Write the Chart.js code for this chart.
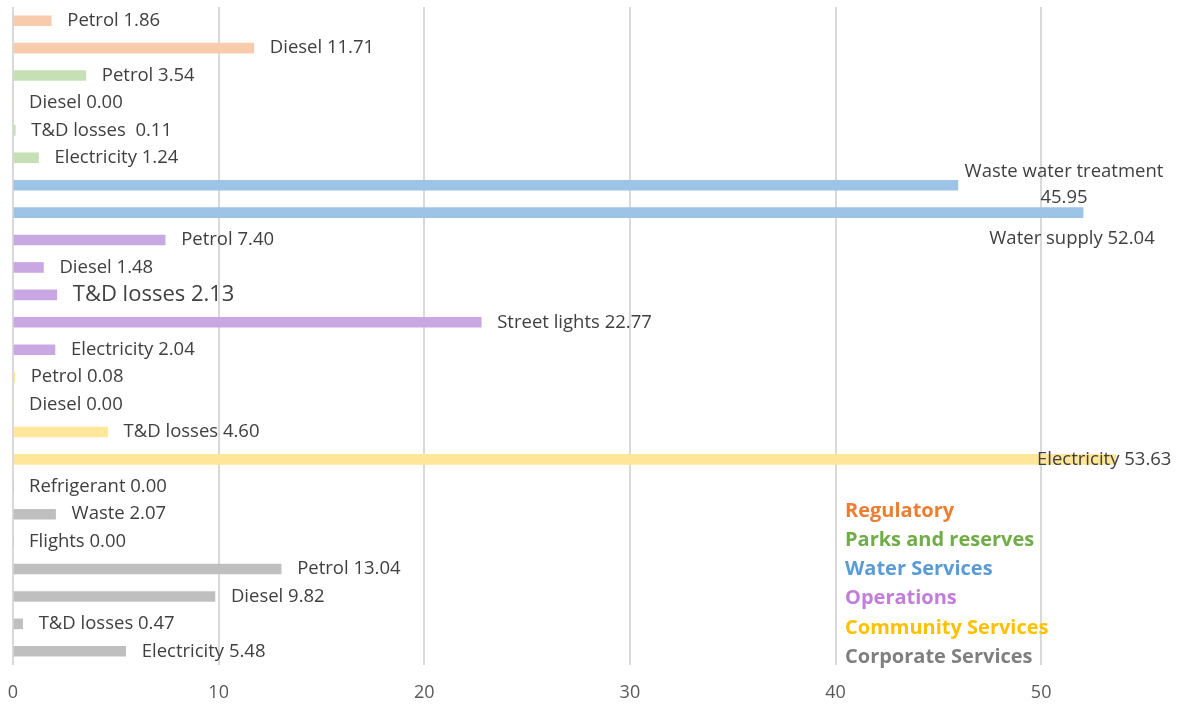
<!DOCTYPE html>
<html>
<head>
<meta charset="utf-8">
<script src="https://cdn.jsdelivr.net/npm/chart.js@4.4.1/dist/chart.umd.min.js"></script>
<style>
  html, body { margin: 0; padding: 0; background: #ffffff; overflow: hidden; }
  #wrap { width: 1182px; height: 706px; }
</style>
</head>
<body>
<div id="wrap"><canvas id="chart" width="1182" height="706"></canvas></div>
<script>
'use strict';

// ── Data (top to bottom) ──────────────────────────────────────────────
var rowNames = [
  'Petrol', 'Diesel',
  'Petrol', 'Diesel', 'T&D losses ', 'Electricity',
  'Waste water treatment', 'Water supply',
  'Petrol', 'Diesel', 'T&D losses', 'Street lights', 'Electricity',
  'Petrol', 'Diesel', 'T&D losses', 'Electricity',
  'Refrigerant', 'Waste', 'Flights', 'Petrol', 'Diesel', 'T&D losses', 'Electricity'
];
var rowValues = [
  1.86, 11.71,
  3.54, 0.00, 0.11, 1.24,
  45.95, 52.04,
  7.40, 1.48, 2.13, 22.77, 2.04,
  0.08, 0.00, 4.60, 53.63,
  0.00, 2.07, 0.00, 13.04, 9.82, 0.47, 5.48
];
var rowGroups = [
  0, 0,
  1, 1, 1, 1,
  2, 2,
  3, 3, 3, 3, 3,
  4, 4, 4, 4,
  5, 5, 5, 5, 5, 5, 5
];
var groupNames = ['Regulatory', 'Parks and reserves', 'Water Services', 'Operations', 'Community Services', 'Corporate Services'];
var xTicks = [0, 10, 20, 30, 40, 50];

// ── Colours ───────────────────────────────────────────────────────────
var barColors  = ['#F8CBAD', '#C5E0B4', '#9DC3E6', '#C9A7E3', '#FFE699', '#BFBFBF'];
var textColors = ['#ED7D31', '#70AD47', '#5B9BD5', '#C27DDB', '#FFC000', '#7F7F7F'];
var FONT = "'Open Sans', sans-serif";

Chart.defaults.font.family = FONT;
Chart.defaults.font.size = 18;
Chart.defaults.color = '#595959';

// Data labels drawn to the right of each bar
var valueLabels = {
  id: 'valueLabels',
  afterDatasetsDraw: function(chart) {
    var ctx = chart.ctx;
    var meta = chart.getDatasetMeta(0);
    ctx.save();
    ctx.fillStyle = '#404040';
    ctx.textBaseline = 'middle';
    meta.data.forEach(function(bar, i) {
      var txt = rowNames[i] + ' ' + rowValues[i].toFixed(2);
      var x = bar.x + 16, y = bar.y;
      ctx.font = (i === 10 ? '22px ' : '18.5px ') + FONT;
      ctx.textAlign = 'left';
      if (i === 6) {
        // wrapped label beside the waste water bar
        ctx.textAlign = 'center';
        ctx.fillText(rowNames[i], 1064, y - 13);
        ctx.fillText(rowValues[i].toFixed(2), 1064, y + 13);
        return;
      }
      if (i === 7) {
        ctx.textAlign = 'center';
        ctx.fillText(txt, 1072, y + 26);
        return;
      }
      if (i === 16) x = 1037;
      ctx.fillText(txt, x, y);
    });
    ctx.restore();
  }
};

// Coloured legend text inside the plot
var groupLegend = {
  id: 'groupLegend',
  afterDraw: function(chart) {
    var ctx = chart.ctx;
    ctx.save();
    ctx.font = 'bold 20px ' + FONT;
    ctx.textAlign = 'left';
    ctx.textBaseline = 'middle';
    groupNames.forEach(function(name, i) {
      ctx.fillStyle = textColors[i];
      ctx.fillText(name, 845, 511 + i * 29.2);
    });
    ctx.restore();
  }
};

new Chart(document.getElementById('chart'), {
  type: 'bar',
  data: {
    labels: rowNames,
    datasets: [{
      data: rowValues,
      backgroundColor: rowGroups.map(function(g) { return barColors[g]; }),
      barThickness: 10,
      borderWidth: 0
    }]
  },
  options: {
    indexAxis: 'y',
    responsive: false,
    animation: false,
    layout: { padding: { left: 13, right: 0, top: 7, bottom: 0 } },
    plugins: { legend: { display: false }, tooltip: { enabled: false } },
    scales: {
      x: {
        min: 0,
        max: 56.85,
        afterBuildTicks: function(axis) {
          axis.ticks = xTicks.map(function(v) { return { value: v }; });
        },
        afterFit: function(axis) {
          axis.height = 41;
          axis.paddingLeft = 0;
          axis.paddingRight = 0;
        },
        grid: { color: '#D9D9D9', lineWidth: 2, drawTicks: false },
        border: { display: false },
        ticks: {
          color: '#595959',
          font: function() { return { family: FONT, size: 18 }; },
          padding: 17,
          maxRotation: 0
        }
      },
      y: {
        display: false,
        grid: { display: false }
      }
    }
  },
  plugins: [valueLabels, groupLegend]
});
</script>
</body>
</html>
